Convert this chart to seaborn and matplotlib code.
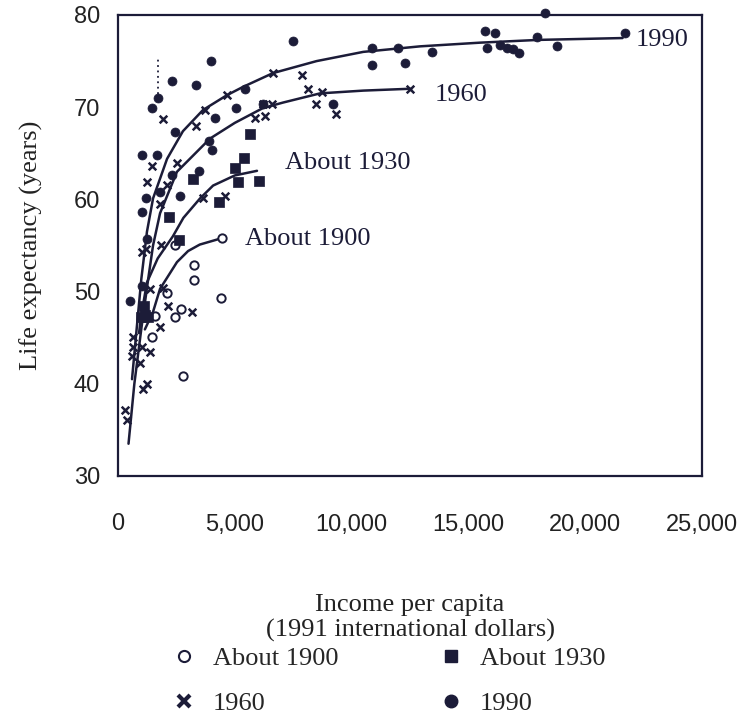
import numpy as np
import pandas as pd
import matplotlib
matplotlib.use("Agg")
import matplotlib.pyplot as plt
from matplotlib.lines import Line2D
import seaborn as sns

INK = "#1c1c38"

# scatter points (income in 1991 intl dollars, life expectancy)
x_1900 = [1450, 1600, 2100, 2450, 2700, 2780, 3250, 3250, 4400, 2450, 4450]
y_1900 = [45.1, 47.3, 49.8, 47.2, 48.1, 40.9, 51.3, 52.9, 49.3, 55.1, 55.8]

x_1930 = [5650, 5390, 5010, 5140, 6030, 3210, 4320, 2180, 2610, 1000, 1150, 1300, 1100]
y_1930 = [67.1, 64.5, 63.4, 61.9, 62.0, 62.2, 59.7, 58.1, 55.6, 47.2, 47.5, 47.2, 48.4]

x_1960 = [300, 385, 1050, 1240, 640, 640, 1030, 1370, 600, 940, 1800, 1370, 1930, 2140,
          3170, 1030, 1840, 1200, 1800, 1240, 1455, 2525, 2100, 3640, 4580, 1930, 3340,
          3720, 4660, 6630, 7875, 8130, 8480, 9330, 8730, 6200, 6590, 6290, 5860, 12500]
y_1960 = [37.2, 36.1, 39.4, 40.0, 45.1, 44.0, 44.0, 43.4, 43.0, 42.3, 46.2, 50.3, 50.4, 48.4,
          47.8, 54.3, 55.0, 54.6, 59.5, 61.9, 63.6, 63.9, 61.6, 60.1, 60.4, 68.7, 68.0,
          69.7, 71.3, 73.7, 73.5, 72.0, 70.4, 69.3, 71.7, 70.4, 70.4, 69.0, 68.8, 72.0]

x_1990 = [510, 1030, 1240, 1030, 1200, 1800, 1030, 1670, 2650, 2310, 3470, 2440, 3900, 4020,
          4150, 5050, 1455, 1710, 2310, 3340, 3980, 5430, 6200, 7490, 9200, 10870, 10870,
          11980, 12280, 13440, 15700, 16140, 15800, 16350, 16650, 16900, 17160, 17930,
          18270, 18790, 21700]
y_1990 = [49.0, 50.6, 55.7, 58.6, 60.1, 60.8, 64.8, 64.8, 60.4, 62.7, 63.1, 67.3, 66.3, 65.4,
          68.8, 69.9, 69.9, 71.0, 72.8, 72.4, 75.0, 72.0, 70.3, 77.2, 70.3, 76.4, 74.6,
          76.4, 74.8, 76.0, 78.3, 78.0, 76.4, 76.7, 76.4, 76.3, 75.9, 77.6,
          80.2, 76.6, 78.0]

# fitted curves
cx_1900 = [1150, 1500, 1800, 2525, 3000, 3500, 4450]
cy_1900 = [45.9, 47.8, 50.3, 53.2, 54.4, 55.1, 55.8]

cx_1930 = [900, 1000, 1240, 1700, 2350, 2800, 3510, 4070, 5000, 5950]
cy_1930 = [45.5, 47.5, 51.0, 53.6, 56.0, 58.0, 60.1, 61.5, 62.6, 63.1]

cx_1960 = [450, 700, 1000, 1300, 1500, 1800, 2525, 3940, 5000, 6200, 7060, 8650, 10500, 12500]
cy_1960 = [33.5, 40.0, 46.0, 51.5, 55.0, 58.5, 63.0, 66.6, 68.3, 69.9, 70.5, 71.5, 71.8, 72.0]

cx_1990 = [600, 800, 1000, 1240, 1500, 2100, 2780, 3640, 4660, 5350, 6635, 8500, 10500,
           12930, 15500, 18000, 21600]
cy_1990 = [40.5, 46.0, 51.4, 56.5, 60.1, 64.4, 67.4, 69.7, 71.3, 72.2, 73.7, 75.0, 76.0,
           76.6, 77.0, 77.3, 77.5]

# small dotted mark above the 1990 cluster
dot_x = [1710, 1710]
dot_y = [71.4, 75.3]

series_labels = ["About 1900", "About 1930", "1960", "1990"]
x_ticks = [0, 5000, 10000, 15000, 20000, 25000]
y_ticks = [30, 40, 50, 60, 70, 80]

SERIF = ["Liberation Serif", "DejaVu Serif"]
NARROW = ["Liberation Sans Narrow", "Liberation Sans", "DejaVu Sans"]

sns.set_theme(style="white")
plt.rcParams["font.family"] = SERIF

fig = plt.figure(figsize=(7.41, 7.17), dpi=100)
ax = fig.add_axes([118 / 741, 1 - 476 / 717, (702 - 118) / 741, (476 - 15) / 717])

curves = [(cx_1900, cy_1900), (cx_1930, cy_1930), (cx_1960, cy_1960), (cx_1990, cy_1990)]
for cx, cy in curves:
    sns.lineplot(x=cx, y=cy, ax=ax, color=INK, lw=1.8, estimator=None, sort=False, zorder=2)

ax.plot(dot_x, dot_y, ls=(0, (1, 2)), color=INK, lw=1.3)

sns.scatterplot(x=x_1900, y=y_1900, ax=ax, marker="o", s=36, facecolor="white",
                edgecolor=INK, linewidth=1.4, zorder=3)
sns.scatterplot(x=x_1930, y=y_1930, ax=ax, marker="s", s=42, color=INK,
                edgecolor=INK, linewidth=0.5, zorder=3)
sns.scatterplot(x=x_1960, y=y_1960, ax=ax, marker="x", s=30, color=INK,
                linewidth=1.8, zorder=3)
sns.scatterplot(x=x_1990, y=y_1990, ax=ax, marker="o", s=42, color=INK,
                edgecolor=INK, linewidth=0.5, zorder=3, clip_on=False)

ax.text(22150, 77.3, "1990", fontsize=19, color=INK, va="center", ha="left")
ax.text(13550, 71.3, "1960", fontsize=19, color=INK, va="center", ha="left")
ax.text(7150, 63.9, "About 1930", fontsize=19, color=INK, va="center", ha="left")
ax.text(5450, 55.7, "About 1900", fontsize=19, color=INK, va="center", ha="left")

ax.set_xlim(0, 25000)
ax.set_ylim(30, 80)
ax.set_xticks(x_ticks)
ax.set_xticklabels([f"{t:,}" for t in x_ticks])
ax.set_yticks(y_ticks)
for lab in ax.get_xticklabels() + ax.get_yticklabels():
    lab.set_family(NARROW)
    lab.set_fontsize(17)
    lab.set_color("#222222")
ax.tick_params(axis="x", direction="out", length=8, width=1.5, pad=19, color=INK)
ax.tick_params(axis="y", direction="out", length=8, width=1.5, pad=5, color=INK)
for sp in ax.spines.values():
    sp.set_color(INK)
    sp.set_linewidth(1.6)

ax.set_xlabel("Income per capita\n(1991 international dollars)", fontsize=19,
              color="#222222", labelpad=42, linespacing=1.15)
ax.set_ylabel("Life expectancy (years)", fontsize=19, color="#222222", labelpad=22)

handles = [
    Line2D([], [], ls="none", marker="o", ms=8, mfc="white", mec=INK, mew=1.5),
    Line2D([], [], ls="none", marker="x", ms=8, color=INK, mew=3),
    Line2D([], [], ls="none", marker="s", ms=9, color=INK),
    Line2D([], [], ls="none", marker="o", ms=9, color=INK),
]
labels = [series_labels[0], series_labels[2], series_labels[1], series_labels[3]]
fig.legend(handles, labels, loc="center", bbox_to_anchor=(388 / 741, 1 - 681 / 717),
           ncol=2, frameon=False, fontsize=19, handletextpad=0.6, columnspacing=3.75,
           labelspacing=0.8, handlelength=1.0)

fig.savefig("out.png", dpi=100)
